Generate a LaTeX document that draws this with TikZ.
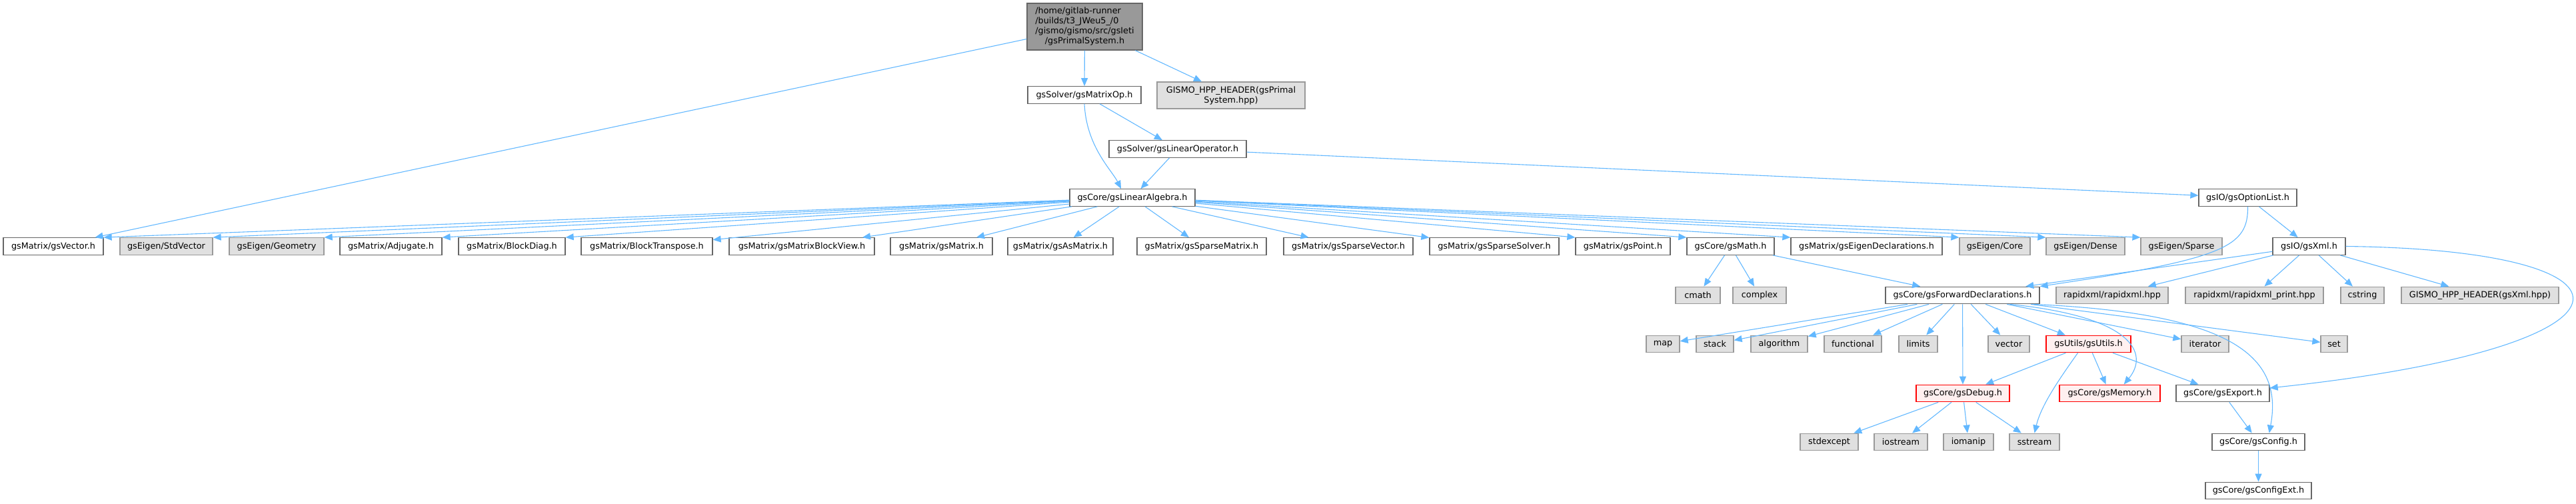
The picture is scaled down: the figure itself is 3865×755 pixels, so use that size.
\documentclass[tikz,border=0pt]{standalone}
\usepackage{fontspec}
\setmainfont{DejaVu Sans}
\usetikzlibrary{arrows.meta}
\definecolor{edgeblue}{HTML}{63B8FF}
\definecolor{boxline}{HTML}{666666}
\definecolor{sysfill}{HTML}{E0E0E0}
\definecolor{sysline}{HTML}{999999}
\definecolor{rootfill}{HTML}{999999}
\definecolor{redfill}{HTML}{FFF0F0}
\tikzset{
  hbox/.style={draw=boxline,fill=white,line width=1.3pt,inner sep=0pt,
    minimum height=25.5pt,font=\fontsize{12.8}{15}\selectfont},
  sysbox/.style={hbox,draw=sysline,fill=sysfill},
  redbox/.style={hbox,draw=red,fill=redfill},
  rootbox/.style={hbox,fill=rootfill},
  dep/.style={-{Triangle[length=12pt,width=10pt]},draw=edgeblue,line width=1.1pt},
}

\begin{document}
\begin{tikzpicture}[x=1pt,y=-1pt]
  \useasboundingbox (0,0) rectangle (3865,755);
  % top
  \node[rootbox,minimum width=173pt,minimum height=70pt] (root) at (1627.5,40)
    {\begin{tabular}{@{}l@{}}/home/gitlab-runner\\/builds/t3\_JWeu5\_/0\\/gismo/gismo/src/gsIeti\\
     \multicolumn{1}{@{}c@{}}{/gsPrimalSystem.h}\end{tabular}};
  \node[hbox,minimum width=170pt] (mop) at (1627,142.5) {gsSolver/gsMatrixOp.h};
  \node[sysbox,minimum width=222pt,minimum height=40pt,align=center] (primhpp) at (1847,143)
    {GISMO\_HPP\_HEADER(gsPrimal\\System.hpp)};
  \node[hbox,minimum width=206pt] (linop) at (1767,223.5) {gsSolver/gsLinearOperator.h};
  \node[hbox,minimum width=188pt] (la) at (1699,296.5) {gsCore/gsLinearAlgebra.h};
  \node[hbox,minimum width=147pt] (opt) at (3372.5,296.5) {gsIO/gsOptionList.h};
  % row 4
  \foreach \nm/\cx/\w/\txt in {vec/80/150/{gsMatrix/gsVector.h},adj/586.5/153/{gsMatrix/Adjugate.h},
      bdiag/768/160/{gsMatrix/BlockDiag.h},btrans/970.5/197/{gsMatrix/BlockTranspose.h},
      bview/1203/218/{gsMatrix/gsMatrixBlockView.h},mat/1412.5/153/{gsMatrix/gsMatrix.h},
      asmat/1591/158/{gsMatrix/gsAsMatrix.h},spmat/1803/194/{gsMatrix/gsSparseMatrix.h},
      spvec/2023/194/{gsMatrix/gsSparseVector.h},spsol/2242/194/{gsMatrix/gsSparseSolver.h},
      point/2435/142/{gsMatrix/gsPoint.h},math/2596.5/131/{gsCore/gsMath.h},
      eigdecl/2800.5/227/{gsMatrix/gsEigenDeclarations.h},xml/3464.5/109/{gsIO/gsXml.h}}
    \node[hbox,minimum width=\w pt] (\nm) at (\cx,369.5) {\txt};
  \foreach \nm/\cx/\w/\txt in {stdvec/249.5/139/{gsEigen/StdVector},geom/415/142/{gsEigen/Geometry},
      core/2993/106/{gsEigen/Core},dense/3129/118/{gsEigen/Dense},sparse/3273/122/{gsEigen/Sparse}}
    \node[sysbox,minimum width=\w pt] (\nm) at (\cx,369.5) {\txt};
  % row 5
  \node[hbox,minimum width=231pt] (fd) at (2944.5,443) {gsCore/gsForwardDeclarations.h};
  \foreach \nm/\cx/\w/\txt in {cmath/2547.5/67/cmath,complex/2640/80/complex,
      rxml/3169/168/{rapidxml/rapidxml.hpp},rxmlp/3382.5/207/{rapidxml/rapidxml\_print.hpp},
      cstring/3544.5/65/cstring,xmlhpp/3721/236/{GISMO\_HPP\_HEADER(gsXml.hpp)}}
    \node[sysbox,minimum width=\w pt] (\nm) at (\cx,443) {\txt};
  % row 6
  \foreach \nm/\cx/\w in {map/2495/50,stack/2573/56,algorithm/2669.5/85,functional/2780/86,
      limits/2878/58,vector/3014/62,iterator/3308.5/71,set/3502/40}
    \node[sysbox,minimum width=\w pt] (\nm) at (\cx,516) {\nm};
  \node[redbox,minimum width=127pt] (utils) at (3133.5,516) {gsUtils/gsUtils.h};
  % row 7
  \node[redbox,minimum width=140pt] (debug) at (2945,590) {gsCore/gsDebug.h};
  \node[redbox,minimum width=151pt] (memory) at (3165.5,590) {gsCore/gsMemory.h};
  \node[hbox,minimum width=140pt] (export) at (3335,590) {gsCore/gsExport.h};
  % row 8
  \foreach \nm/\cx/\w in {stdexcept/2744.5/87,iostream/2852/80,iomanip/2953.5/75,sstream/3052.5/75}
    \node[sysbox,minimum width=\w pt] (\nm) at (\cx,663) {\nm};
  \node[hbox,minimum width=139pt] (config) at (3388.5,663) {gsCore/gsConfig.h};
  % row 9
  \node[hbox,minimum width=159pt] (configext) at (3388.5,736) {gsCore/gsConfigExt.h};

  % edges
  \draw[dep] (root) -- (vec);
  \draw[dep] (root) -- (mop);
  \draw[dep] (root) -- (primhpp);
  \draw[dep] (mop.south) .. controls (1630,220) and (1668,255) .. ([xshift=-17pt]la.north);
  \draw[dep] (mop) -- (linop);
  \draw[dep] (linop) -- (la);
  \draw[dep] (linop) -- (opt);
  \foreach \t in {vec,stdvec,geom,adj,bdiag}
    \draw[dep] (la) -- (\t.north east);
  \foreach \t in {btrans,bview,mat,asmat,spmat,spvec,spsol}
    \draw[dep] (la) -- (\t);
  \foreach \t in {point,math,eigdecl,core,dense,sparse}
    \draw[dep] (la) -- (\t.north west);
  \draw[dep] (opt) -- (xml);
  \draw[dep] (opt.south) .. controls (3373,370) and (3340,388) .. (fd.north east);
  \foreach \t in {cmath,complex,fd}
    \draw[dep] (math) -- (\t);
  \foreach \t in {fd,rxml,rxmlp,cstring,xmlhpp}
    \draw[dep] (xml) -- (\t);
  \draw[dep] (xml.east) .. controls (3990,375) and (3990,520) .. ([yshift=8pt]export.east);
  \foreach \t in {map,stack,algorithm,functional,limits,vector,utils,iterator,set,debug}
    \draw[dep] (fd) -- (\t);
  \draw[dep] ([xshift=-45pt]fd.south east) .. controls (3200,475) and (3225,530) .. ([xshift=-55pt]memory.north east);
  \draw[dep] ([xshift=-10pt]fd.south east) .. controls (3360,470) and (3425,540) .. ([xshift=-54pt]config.north east);
  \foreach \t in {debug,memory,export}
    \draw[dep] (utils) -- (\t);
  \draw[dep] ([xshift=-16pt]utils.south) .. controls (3085,575) and (3062,610) .. (sstream.north);
  \foreach \t in {stdexcept,iostream,iomanip,sstream}
    \draw[dep] (debug) -- (\t);
  \draw[dep] (export) -- (config);
  \draw[dep] (config) -- (configext);
\end{tikzpicture}
\end{document}
